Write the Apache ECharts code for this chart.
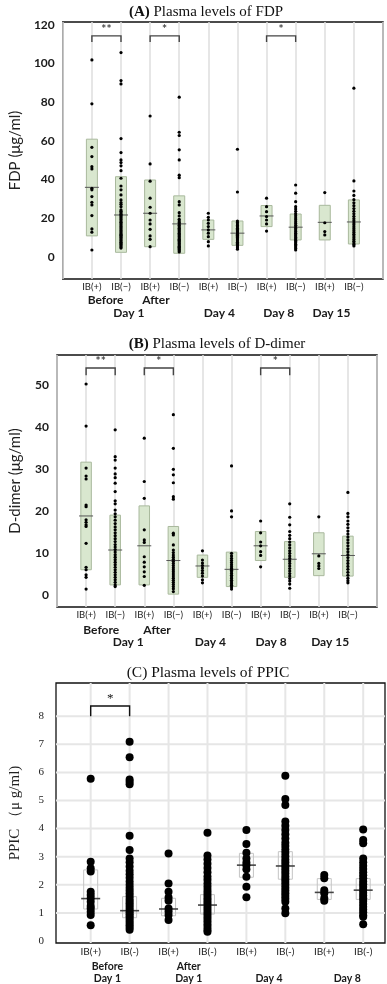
<!DOCTYPE html>
<html><head><meta charset="utf-8">
<script src="https://cdn.jsdelivr.net/npm/echarts@6/dist/echarts.min.js"></script>
<style>html,body{margin:0;padding:0;background:#fff}#c{width:387px;height:984px}</style>
</head><body><div id="c"></div>
<script>
// ---------- categories ----------
const catsAB = ['IB(+)','IB(−)','IB(+)','IB(−)','IB(+)','IB(−)','IB(+)','IB(−)','IB(+)','IB(−)'];
const catsC = ['IB(+)','IB(-)','IB(+)','IB(-)','IB(+)','IB(-)','IB(+)','IB(-)'];
const subLabelsAB = ['Before','After'];
const dayLabelsAB = ['Day 1','Day 4','Day 8','Day 15'];
const subLabelsC = ['Before','After'];
const dayLabelsC = ['Day 1','Day 1','Day 4','Day 8'];
const ticksA = [0,20,40,60,80,100,120];
const ticksB = [0,10,20,30,40,50];
const ticksC = [0,1,2,3,4,5,6,7,8];

// ---------- Panel A : FDP (µg/ml) ----------
const fdpBeforePos = [101.9,79.2,56.7,51.9,46.7,45.5,35.5,34.7,31.2,28.3,26.9,21.4,14.5,12.8,3.6];
const fdpBeforeNeg = [105.7,91.2,89.5,61.2,54,50.2,48.8,47.1,44.6,40.7,36.7,34.7,32.1,29.5,28.1,27.2,26,24.3,23.6,22.9,22.1,21.5,20.8,20.1,19.4,18.6,17.9,17.2,16.5,15.8,15.1,14.4,13.7,13,12.4,11.8,11.2,10.6,10,9.4,8.8,8.2,7.6,7,6.4,5.8,5.2,4.6];
const fdpAfterPos = [72.9,48.1,39.2,30.4,25.7,22.6,19.1,17.1,14.3,10.9,9.1,5.3];
const fdpAfterNeg = [82.6,64.5,62.8,55.4,50.2,42.3,41,28.6,26.9,22.9,21.2,19.5,18.6,17.8,17.1,16.4,15.6,14.9,14.2,13.5,12.9,12.2,11.6,11,10.4,9.8,9.2,8.6,8,7.4,6.8,6.2,5.6,5,4.4,3.8,3.2,2.6];
const fdpDay4Pos = [22.6,20.5,19.1,17.4,15.7,14,12.3,10.5,7.9,5.7];
const fdpDay4Neg = [55.7,33.6,18.6,17.8,17,16.3,15.6,14.9,14.2,13.6,13,12.4,11.8,11.2,10.6,10,9.4,8.8,8.2,7.6,7,6.4,5.8,5.2,4.6,4];
const fdpDay8Pos = [30.4,26,23.4,20.9,19.1,17.1,13.4];
const fdpDay8Neg = [37.2,33,28.6,26,24.8,23.6,22.4,21.3,20.2,19.2,18.2,17.3,16.4,15.5,14.7,13.9,13.1,12.3,11.5,10.8,10.1,9.4,8.7,8,7.3,6.6,5.9,5.2,4.4,3.6];
const fdpDay15Pos = [33.3,17.7,13.1,11.4];
const fdpDay15Neg = [87.3,39.3,34.1,31.8,29.6,28,26.5,25,23.6,22.3,21,19.8,18.7,17.6,16.6,15.6,14.6,13.6,12.6,11.7,10.8,9.9,9,8.1,7.2,6.4,5.7];
const fdpQ1  = [10.9,2.4,5.3,1.9,9.1,6.0,15.7,8.8,8.8,6.7];
const fdpQ3  = [60.9,41.5,39.8,31.6,19.1,18.6,26.6,22.2,26.7,29.5];
const fdpMed = [36.0,21.7,22.6,17.1,14.0,12.3,21.2,15.4,17.9,18.1];

// ---------- Panel B : D-dimer (µg/ml) ----------
const ddBeforePos = [50.2,40.2,30.2,28.3,27.6,21.4,21,17.9,17.3,16.7,16.3,12.3,6.6,6,4.8,4.2,1.4];
const ddBeforeNeg = [39.3,32.9,32.1,30.2,28.8,27.9,26.6,24.6,22.4,21.7,20.2,19.3,18.6,17.8,17,16.2,15.5,14.8,14.1,13.4,12.7,12,11.4,10.8,10.2,9.6,9,8.4,7.8,7.2,6.6,6,5.4,4.8,4.2,3.6,3,2.4,2];
const ddAfterPos = [37.3,27,23,15.5,13.1,12.5,9.1,7.8,6.7,5.5,4.4,2.3];
const ddAfterNeg = [42.9,34.9,29.9,28.6,26.7,23.4,22.8,14.7,14.3,11.9,10.7,10.1,9.5,9,8.5,8,7.5,7,6.5,6,5.5,5,4.5,4,3.5,3,2.5,2,1.5,0.8];
const ddDay4Pos = [10.5,8.3,7.6,7,6.4,5.8,5.2,4.5,3.6,2.9];
const ddDay4Neg = [30.7,20,18.6,9.9,9.3,8.7,8.2,7.7,7.2,6.7,6.3,5.9,5.5,5.1,4.7,4.3,3.9,3.5,3.1,2.7,2.3,1.9,1.4];
const ddDay8Pos = [17.6,14.8,12.6,11.7,10.3,9.4,6.7];
const ddDay8Neg = [21.7,18.5,16.7,15.1,14.2,13.4,12.6,11.9,11.2,10.5,9.9,9.3,8.7,8.1,7.5,6.9,6.3,5.7,5.1,4.5,3.9,3.3,2.6,1.6];
const ddDay15Pos = [18.6,9.3,7.5,6.9,6.3];
const ddDay15Neg = [24.4,19.4,18.6,17.6,16.8,16,15.2,14.5,13.8,13.1,12.4,11.7,11,10.3,9.6,8.9,8.2,7.5,6.8,6.1,5.4,4.7,4,3.4,2.9];
const ddQ1  = [6.0,2.4,2.4,0.2,4.2,2.0,8.2,4.2,4.6,4.5];
const ddQ3  = [31.6,19.0,21.2,16.3,9.5,10.2,15.1,12.7,14.8,14.0];
const ddMed = [18.8,10.7,11.7,8.2,6.9,6.1,11.7,8.5,9.8,9.4];

// ---------- Panel C : PPIC (µg/ml) ----------
const ppBeforePos = [5.77,2.82,2.59,2.47,1.75,1.64,1.52,1.40,1.25,1.16,1.04,0.93,0.56];
const ppBeforeNeg = [7.09,6.54,5.75,5.67,5.58,3.75,3.24,2.94,2.8,2.65,2.5,2.38,2.25,2.12,2.0,1.9,1.8,1.7,1.6,1.5,1.42,1.34,1.26,1.18,1.1,1.02,0.95,0.88,0.8,0.72,0.64,0.56,0.48,0.4];
const ppAfterPos = [3.11,2.05,1.75,1.55,1.43,1.16,1.05,0.93,0.75];
const ppAfterNeg = [3.85,3.04,2.9,2.75,2.6,2.45,2.3,2.18,2.05,1.93,1.82,1.72,1.62,1.52,1.43,1.34,1.25,1.16,1.07,0.98,0.89,0.8,0.7,0.6,0.5,0.4,0.33];
const ppDay4Pos = [3.95,3.45,3.14,2.94,2.79,2.70,2.55,2.29,1.93,1.56];
const ppDay4Neg = [5.88,5.05,4.84,4.25,4.1,3.95,3.8,3.65,3.5,3.38,3.26,3.14,3.02,2.9,2.8,2.7,2.6,2.5,2.4,2.3,2.2,2.1,2.0,1.9,1.8,1.7,1.6,1.5,1.4,1.16,0.99];
const ppDay8Pos = [2.35,2.23,1.81,1.70,1.52,1.43];
const ppDay8Neg = [3.97,3.59,3.48,2.94,2.8,2.68,2.56,2.45,2.34,2.23,2.12,2.02,1.92,1.82,1.72,1.62,1.52,1.42,1.32,1.22,1.12,1.02,0.92,0.86,0.6];
const ppQ1  = [1.14,0.83,0.90,0.96,2.27,2.20,1.48,1.48];
const ppQ3  = [2.53,1.58,1.52,1.65,3.12,3.18,2.22,2.22];
const ppMed = [1.51,1.08,1.14,1.28,2.70,2.67,1.73,1.81];

// ---------- significance ----------
const sigAB = [[0,1,'**'],[2,3,'*'],[6,7,'*']];
const sigB  = [[0,1,'**'],[2,3,'*'],[6,7,'*']];
const sigC  = [[0,1,'*']];

// ---------- build ----------
const groupsA = [fdpBeforePos,fdpBeforeNeg,fdpAfterPos,fdpAfterNeg,fdpDay4Pos,fdpDay4Neg,fdpDay8Pos,fdpDay8Neg,fdpDay15Pos,fdpDay15Neg];
const groupsB = [ddBeforePos,ddBeforeNeg,ddAfterPos,ddAfterNeg,ddDay4Pos,ddDay4Neg,ddDay8Pos,ddDay8Neg,ddDay15Pos,ddDay15Neg];
const groupsC = [ppBeforePos,ppBeforeNeg,ppAfterPos,ppAfterNeg,ppDay4Pos,ppDay4Neg,ppDay8Pos,ppDay8Neg];

function pts(groups){ const o=[]; groups.forEach((g,i)=>g.forEach(v=>o.push([i+1,v]))); return o; }
function boxes(q1,q3,md){ return q1.map((v,i)=>[i+1,v,q3[i],md[i]]); }

function boxRender(wBox,wMed,fill,stroke,medColor,medW){
  return function(params,api){
    const x=api.value(0), q1=api.value(1), q3=api.value(2), md=api.value(3);
    const a=api.coord([x,q3]), b=api.coord([x,q1]), m=api.coord([x,md]);
    return {type:'group',children:[
      {type:'rect',shape:{x:a[0]-wBox/2,y:a[1],width:wBox,height:b[1]-a[1]},style:{fill:fill,stroke:stroke,lineWidth:1}},
      {type:'line',shape:{x1:m[0]-wMed/2,y1:m[1],x2:m[0]+wMed/2,y2:m[1]},style:{stroke:medColor,lineWidth:medW}}
    ]};
  };
}
function bracketRender(list,yTop,yArm,color,font){
  return function(params,api){
    const s=list[params.dataIndex];
    const l=api.coord([s[0]+1,yTop]), r=api.coord([s[1]+1,yTop]);
    const la=api.coord([s[0]+1,yArm]);
    return {type:'group',children:[
      {type:'polyline',shape:{points:[[l[0],la[1]],[l[0],l[1]],[r[0],l[1]],[r[0],la[1]]]},style:{stroke:color,lineWidth:1.4,fill:null}},
      {type:'text',x:(l[0]+r[0])/2,y:l[1]-1,style:{text:s[2],fill:color,font:font,textAlign:'center',textVerticalAlign:'bottom'}}
    ]};
  };
}
function gridRender(params,api){
  const cs=params.coordSys; const v=api.value(0), dir=api.value(1);
  if(dir===0){ const p=api.coord([v,0]); return {type:'line',shape:{x1:p[0],y1:cs.y,x2:p[0],y2:cs.y+cs.height},style:{stroke:'#e6e6e6',lineWidth:2}}; }
  const p=api.coord([1,v]); return {type:'line',shape:{x1:cs.x,y1:p[1],x2:cs.x+cs.width,y2:p[1]},style:{stroke:'#e6e6e6',lineWidth:2}};
}

// label anchor positions (layout)
const posSubA=[1.47,3.2], posDayA=[2.27,5.38,7.42,9.23];
const posSubB=[1.52,3.44], posDayB=[2.45,5.27,7.36,9.39];
const posSubC=[1.43,3.52], posDayC=[1.43,3.52,5.58,7.59];
function mapFmt(pos,labels){ return function(v){ for(let i=0;i<pos.length;i++){ if(Math.abs(pos[i]-v)<1e-6) return labels[i]; } return ''; }; }

const sansB = {fontFamily:'Lato',fontWeight:'bold',color:'#1a1a1a'};
function mainX(grid,min,max,cats,fs,margin,split){
  return {type:'value',gridIndex:grid,min:min,max:max,interval:1,
    axisLine:{show:false},axisTick:{show:false},
    splitLine:{show:split,lineStyle:{color:'#dedede',width:1.5}},
    axisLabel:{customValues:cats.map((c,i)=>i+1),formatter:v=>cats[Math.round(v)-1]||'',margin:margin,fontSize:fs,fontFamily:'Lato',color:'#222'}};
}
function extraX(grid,min,max,pos,labels,offset,fs){
  return {type:'value',gridIndex:grid,min:min,max:max,position:'bottom',offset:offset,
    axisLine:{show:false},axisTick:{show:false},splitLine:{show:false},
    axisLabel:Object.assign({customValues:pos,formatter:mapFmt(pos,labels),margin:0,fontSize:fs,showMinLabel:true,showMaxLabel:true,hideOverlap:false},sansB)};
}

const option = {
  animation:false,
  title:[
    {text:'{b|(A)} Plasma levels of FDP',left:201,top:0,textAlign:'center',textStyle:{fontFamily:'Liberation Serif',fontSize:15,fontWeight:'normal',color:'#111',rich:{b:{fontFamily:'Liberation Serif',fontSize:15,fontWeight:'bold',color:'#111'}}}},
    {text:'{b|(B)} Plasma levels of D-dimer',left:212,top:332,textAlign:'center',textStyle:{fontFamily:'Liberation Serif',fontSize:15,fontWeight:'normal',color:'#111',rich:{b:{fontFamily:'Liberation Serif',fontSize:15,fontWeight:'bold',color:'#111'}}}},
    {text:'(C) Plasma levels of PPIC',left:203,top:660,textAlign:'center',textStyle:{fontFamily:'Liberation Serif',fontSize:15.5,fontWeight:'normal',color:'#111'}}
  ],
  grid:[
    {left:53,top:22,width:330,height:257,show:true,borderColor:'#111',borderWidth:1.5,backgroundColor:'transparent'},
    {left:53,top:355,width:324,height:252,show:true,borderColor:'#111',borderWidth:1.5,backgroundColor:'transparent'},
    {left:53,top:683,width:332,height:260,show:true,borderColor:'#111',borderWidth:1.3,backgroundColor:'transparent'}
  ],
  xAxis:[
    mainX(0,0,11,catsAB,9.5,3,true),
    extraX(0,0,11,posSubA,subLabelsAB,15,12),
    extraX(0,0,11,posDayA,dayLabelsAB,28,12),
    mainX(1,0,11,catsAB,9.5,3,true),
    extraX(1,0,11,posSubB,subLabelsAB,17,12),
    extraX(1,0,11,posDayB,dayLabelsAB,29,12),
    mainX(2,0.109,8.56,catsC,10,4,false),
    extraX(2,0.109,8.56,posSubC,subLabelsC,18,10.5),
    extraX(2,0.109,8.56,posDayC,dayLabelsC,30,10.5)
  ],
  yAxis:[
    {type:'value',gridIndex:0,min:-11.4,max:121.5,splitLine:{show:false},axisLine:{show:false},axisTick:{show:false},
     axisLabel:Object.assign({customValues:ticksA,margin:8,fontSize:12},sansB),
     name:'FDP (μg/ml)',nameLocation:'middle',nameGap:34,nameTextStyle:{fontFamily:'Lato',fontSize:15,color:'#222'}},
    {type:'value',gridIndex:1,min:-2.86,max:57.1,splitLine:{show:false},axisLine:{show:false},axisTick:{show:false},
     axisLabel:Object.assign({customValues:ticksB,margin:8,fontSize:12},sansB),
     name:'D-dimer (μg/ml)',nameLocation:'middle',nameGap:34,nameTextStyle:{fontFamily:'Lato',fontSize:15,color:'#222'}},
    {type:'value',gridIndex:2,min:-0.07,max:9.18,splitLine:{show:false},axisLine:{show:false},axisTick:{show:false},
     axisLabel:{customValues:ticksC,margin:12,fontSize:11,fontFamily:'Liberation Serif',color:'#222'},
     name:'PPIC （μ g/ml)',nameLocation:'middle',nameGap:33,nameTextStyle:{fontFamily:'Liberation Serif',fontSize:15,color:'#222'}}
  ],
  series:[
    {type:'custom',xAxisIndex:0,yAxisIndex:0,z:2,silent:true,renderItem:boxRender(11,14,'#d9e7cf','#a9b99d','#555',1),data:boxes(fdpQ1,fdpQ3,fdpMed)},
    {type:'scatter',xAxisIndex:0,yAxisIndex:0,z:3,symbolSize:3.2,itemStyle:{color:'#000',opacity:1},data:pts(groupsA)},
    {type:'custom',xAxisIndex:0,yAxisIndex:0,z:4,silent:true,renderItem:bracketRender(sigAB,114.3,111.2,'#444','bold 12px Lato'),data:sigAB.map(s=>[s[0]+1,114.3])},

    {type:'custom',xAxisIndex:3,yAxisIndex:1,z:2,silent:true,renderItem:boxRender(10.5,14,'#d9e7cf','#a9b99d','#555',1),data:boxes(ddQ1,ddQ3,ddMed)},
    {type:'scatter',xAxisIndex:3,yAxisIndex:1,z:3,symbolSize:3.2,itemStyle:{color:'#000',opacity:1},data:pts(groupsB)},
    {type:'custom',xAxisIndex:3,yAxisIndex:1,z:4,silent:true,renderItem:bracketRender(sigB,54,52.3,'#444','bold 12px Lato'),data:sigB.map(s=>[s[0]+1,54])},

    {type:'custom',xAxisIndex:6,yAxisIndex:2,z:1,silent:true,renderItem:gridRender,
     data:catsC.map((c,i)=>[i+1,0]).concat(ticksC.slice(1).map(t=>[t,1]))},
    {type:'custom',xAxisIndex:6,yAxisIndex:2,z:2,silent:true,renderItem:boxRender(14,19,'rgba(255,255,255,0)','#c4c4c4','#444',1.6),data:boxes(ppQ1,ppQ3,ppMed)},
    {type:'scatter',xAxisIndex:6,yAxisIndex:2,z:3,symbolSize:8,itemStyle:{color:'#000',opacity:1},data:pts(groupsC)},
    {type:'custom',xAxisIndex:6,yAxisIndex:2,z:4,silent:true,renderItem:bracketRender(sigC,8.36,8.0,'#111','13px Liberation Serif'),data:sigC.map(s=>[s[0]+1,8.36])}
  ]
};
const chart = echarts.init(document.getElementById('c'),null,{renderer:'canvas'});
chart.setOption(option);
</script></body></html>
